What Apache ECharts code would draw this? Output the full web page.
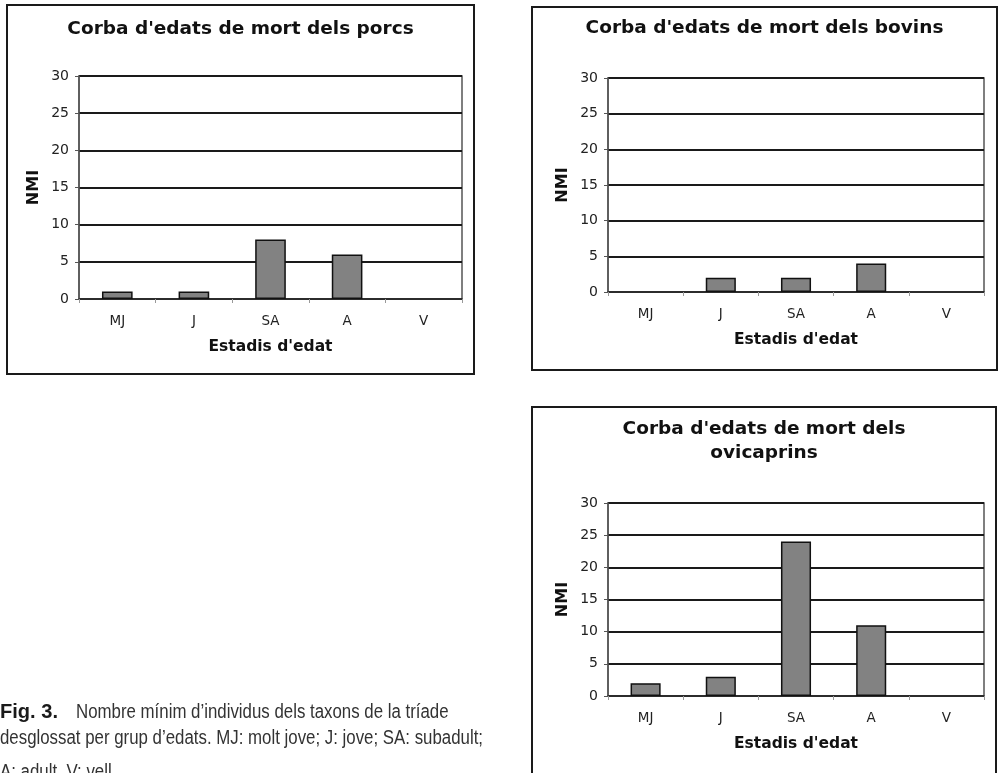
<!DOCTYPE html>
<html>
<head>
<meta charset="utf-8">
<style>
  html, body { margin: 0; padding: 0; background: #fff; }
  #main { width: 999px; height: 773px; }
</style>
<script src="https://cdn.jsdelivr.net/npm/echarts@6/dist/echarts.min.js"></script>
</head>
<body>
<div id="main"></div>
<script>
// Age stages (x axis) and minimum number of individuals per taxon
const stages = ['MJ', 'J', 'SA', 'A', 'V'];
const porcs = [1, 1, 8, 6, 0];
const bovins = [0, 2, 2, 4, 0];
const ovicaprins = [2, 3, 24, 11, 0];
const yTicks = { min: 0, max: 30, interval: 5 };

const titles = [
  "Corba d'edats de mort dels porcs",
  "Corba d'edats de mort dels bovins",
  "Corba d'edats de mort dels\novicaprins"
];
const xName = "Estadis d'edat";
const yName = 'NMI';
const captionBold = 'Fig. 3.';
const captionLines = [
  'Nombre mínim d’individus dels taxons de la tríade',
  'desglossat per grup d’edats. MJ: molt jove; J: jove; SA: subadult;',
  'A: adult. V: vell.'
];

const FONT = '"DejaVu Sans", Verdana, sans-serif';

// Panel layout: outer frame, plot grid, title anchor
const panels = [
  { frame: [7, 5, 467, 369], grid: { left: 79, top: 76, width: 383, height: 223 }, titleY: 29, data: porcs },
  { frame: [532, 7, 465, 363], grid: { left: 608, top: 78, width: 376, height: 214 }, titleY: 28, data: bovins },
  { frame: [532, 407, 464, 380], grid: { left: 608, top: 503, width: 376, height: 193 }, titleY: 441, data: ovicaprins }
];

const grids = [], xAxes = [], yAxes = [], series = [], graphics = [];

panels.forEach((p, i) => {
  grids.push(Object.assign({ show: true, borderColor: '#555', borderWidth: 1.5, backgroundColor: '#fff' }, p.grid));
  xAxes.push({
    type: 'category', gridIndex: i, data: stages,
    boundaryGap: true,
    axisLine: { show: true, lineStyle: { color: '#333', width: 1.5 } },
    axisTick: { show: true, length: 4, inside: false, lineStyle: { color: '#999', width: 1 } },
    axisLabel: { color: '#222', fontFamily: FONT, fontSize: 13.5, margin: 15 },
    name: xName, nameLocation: 'middle', nameGap: 40,
    nameTextStyle: { color: '#111', fontFamily: FONT, fontWeight: 'bold', fontSize: 15.5 }
  });
  yAxes.push({
    type: 'value', gridIndex: i,
    min: yTicks.min, max: yTicks.max, interval: yTicks.interval,
    axisLine: { show: true, lineStyle: { color: '#555', width: 1.5 } },
    axisTick: { show: true, length: 4, lineStyle: { color: '#555', width: 1 } },
    axisLabel: { color: '#222', fontFamily: FONT, fontSize: 14, margin: 10 },
    splitLine: { show: true, lineStyle: { color: '#1a1a1a', width: 2 } },
    name: yName, nameLocation: 'middle', nameGap: 37, nameRotate: 90,
    nameTextStyle: { color: '#111', fontFamily: FONT, fontWeight: 'bold', fontSize: 16 }
  });
  series.push({
    type: 'bar', xAxisIndex: i, yAxisIndex: i,
    // empty stages get no outline
    data: p.data.map(v => ({ value: v, itemStyle: v === 0 ? { borderWidth: 0 } : {} })),
    barWidth: '40%',
    itemStyle: { color: '#828282', borderColor: '#111', borderWidth: 1.5 },
    silent: true, animation: false
  });

  const f = p.frame;
  graphics.push({
    type: 'rect', z: -10,
    shape: { x: f[0], y: f[1], width: f[2], height: f[3] },
    style: { fill: '#fff', stroke: '#1a1a1a', lineWidth: 2 }
  });
  graphics.push({
    type: 'text', x: f[0] + f[2] / 2, y: p.titleY,
    style: {
      text: titles[i], align: 'center', verticalAlign: 'middle',
      font: 'bold 18.5px ' + FONT, fill: '#111', lineHeight: 24
    }
  });
});

// Figure caption: narrow face, squeezed horizontally to the column width
const CAP_FONT = '"Liberation Sans", Arial, sans-serif';
const CAP_SIZE = 20;
const ctx = document.createElement('canvas').getContext('2d');
ctx.font = CAP_SIZE + 'px ' + CAP_FONT;
const capScale = 483 / ctx.measureText(captionLines[1]).width;
ctx.font = 'bold ' + CAP_SIZE + 'px ' + CAP_FONT;
const boldScale = 58 / ctx.measureText(captionBold).width;

const capText = (text, x, y, bold) => ({
  type: 'text', x: x, y: y, scaleX: bold ? boldScale : capScale,
  style: {
    text: text, font: (bold ? 'bold ' : '') + CAP_SIZE + 'px ' + CAP_FONT,
    fill: bold ? '#1a1a1a' : '#333', verticalAlign: 'middle'
  }
});
graphics.push(capText(captionBold, 0, 712, true));
graphics.push(capText(captionLines[0], 76, 712, false));
graphics.push(capText(captionLines[1], 0, 738, false));
graphics.push(capText(captionLines[2], 0, 772, false));

const chart = echarts.init(document.getElementById('main'), null, { renderer: 'canvas' });
chart.setOption({
  animation: false,
  backgroundColor: '#fff',
  grid: grids,
  xAxis: xAxes,
  yAxis: yAxes,
  series: series,
  graphic: graphics
});
</script>
</body>
</html>
